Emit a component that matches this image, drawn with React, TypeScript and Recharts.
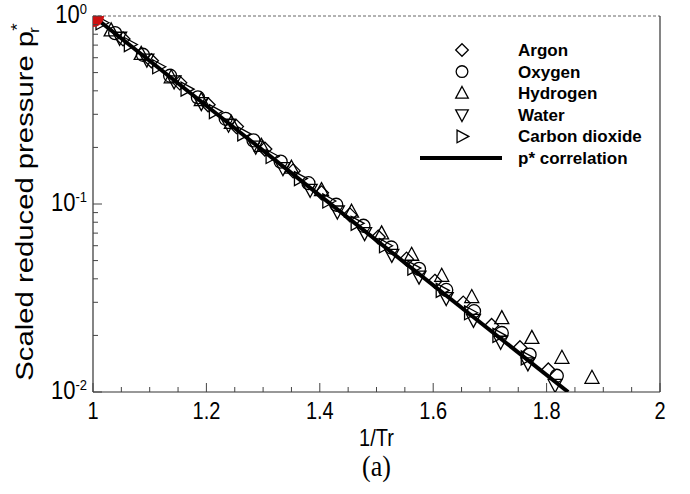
import React from "react";
import {
  ScatterChart,
  Scatter,
  XAxis,
  YAxis,
  ReferenceLine,
} from "recharts";

// ---------- data ----------
const argonX = [1.003, 1.053, 1.103, 1.153, 1.203, 1.253, 1.303, 1.353, 1.403, 1.453, 1.503, 1.553, 1.603, 1.653, 1.703, 1.753, 1.803];
const argonY = [0.984, 0.755, 0.578, 0.441, 0.337, 0.258, 0.196, 0.150, 0.1146, 0.0875, 0.0667, 0.0509, 0.0388, 0.0297, 0.0226, 0.0172, 0.0131];

const oxygenX = [1.039, 1.088, 1.136, 1.185, 1.234, 1.283, 1.331, 1.380, 1.429, 1.477, 1.526, 1.575, 1.623, 1.672, 1.721, 1.770, 1.818];
const oxygenY = [0.811, 0.622, 0.481, 0.369, 0.284, 0.218, 0.168, 0.129, 0.0991, 0.0766, 0.0587, 0.0452, 0.0349, 0.0269, 0.0206, 0.0158, 0.0122];

const hydrogenX = [1.032, 1.085, 1.138, 1.191, 1.244, 1.297, 1.350, 1.403, 1.456, 1.509, 1.562, 1.615, 1.668, 1.721, 1.774, 1.827, 1.880];
const hydrogenY = [0.839, 0.629, 0.472, 0.357, 0.270, 0.204, 0.156, 0.1186, 0.0910, 0.0698, 0.0537, 0.0415, 0.0320, 0.0247, 0.0194, 0.0152, 0.0119];

const waterX = [1.047, 1.095, 1.143, 1.191, 1.239, 1.287, 1.335, 1.383, 1.431, 1.479, 1.527, 1.575, 1.623, 1.671, 1.719, 1.767, 1.815];
const waterY = [0.766, 0.586, 0.449, 0.344, 0.264, 0.202, 0.155, 0.119, 0.0912, 0.0700, 0.0536, 0.0411, 0.0316, 0.0242, 0.0185, 0.0142, 0.0109];

const co2X = [1.015, 1.065, 1.115, 1.165, 1.215, 1.265, 1.315, 1.365, 1.415, 1.465, 1.515, 1.565, 1.615, 1.665, 1.715, 1.765];
const co2Y = [0.921, 0.705, 0.537, 0.408, 0.310, 0.236, 0.179, 0.1365, 0.1038, 0.0789, 0.0600, 0.0456, 0.0347, 0.0264, 0.0200, 0.0152];

const corrX = [1.0, 1.838];
const corrY = [1.0, 0.01];

const criticalX = [1.0];
const criticalY = [1.0];

const seriesNames = ["Argon", "Oxygen", "Hydrogen", "Water", "Carbon dioxide"];
const lineName = "p* correlation";

const xTicks = [1, 1.05, 1.1, 1.15, 1.2, 1.25, 1.3, 1.35, 1.4, 1.45, 1.5, 1.55, 1.6, 1.65, 1.7, 1.75, 1.8, 1.85, 1.9, 1.95, 2];
const yTicks = [0.01, 0.02, 0.03, 0.04, 0.05, 0.06, 0.07, 0.08, 0.09, 0.1, 0.2, 0.3, 0.4, 0.5, 0.6, 0.7, 0.8, 0.9, 1];

const xLabel = "1/Tr";
const caption = "(a)";

// ---------- helpers ----------
const toPts = (xs: number[], ys: number[]) => xs.map((x, i) => ({ x, y: ys[i] }));

const FONT = "'Liberation Sans', Arial, Helvetica, sans-serif";
const SW = 1.3;

type ShapeKind = "diamond" | "circle" | "triUp" | "triDown" | "triRight";
const kinds: ShapeKind[] = ["diamond", "circle", "triUp", "triDown", "triRight"];

function markerPath(kind: ShapeKind, cx: number, cy: number, s = 1) {
  switch (kind) {
    case "diamond":
      return <path d={`M${cx},${cy - 7 * s}L${cx + 7 * s},${cy}L${cx},${cy + 7 * s}L${cx - 7 * s},${cy}Z`} fill="none" stroke="#000" strokeWidth={SW} />;
    case "circle":
      return <circle cx={cx} cy={cy} r={6.5 * s} fill="none" stroke="#000" strokeWidth={SW} />;
    case "triUp":
      return <path d={`M${cx},${cy - 7.5 * s}L${cx + 7 * s},${cy + 5.5 * s}L${cx - 7 * s},${cy + 5.5 * s}Z`} fill="none" stroke="#000" strokeWidth={SW} />;
    case "triDown":
      return <path d={`M${cx},${cy + 7.5 * s}L${cx + 7 * s},${cy - 5.5 * s}L${cx - 7 * s},${cy - 5.5 * s}Z`} fill="none" stroke="#000" strokeWidth={SW} />;
    case "triRight":
      return <path d={`M${cx + 7.5 * s},${cy}L${cx - 5.5 * s},${cy - 7 * s}L${cx - 5.5 * s},${cy + 7 * s}Z`} fill="none" stroke="#000" strokeWidth={SW} />;
  }
}

const makeShape = (kind: ShapeKind) => (props: any) => {
  const { cx, cy } = props;
  if (cx == null || cy == null) return <g />;
  return markerPath(kind, cx, cy);
};

const XTick = (props: any) => {
  const { x, y, payload } = props;
  const v = payload.value as number;
  const major = Math.abs(v * 5 - Math.round(v * 5)) < 1e-6;
  const label = Number.isInteger(v) ? String(v) : v.toFixed(1);
  return (
    <g>
      <line x1={x} x2={x} y1={y} y2={y - (major ? 9 : 5)} stroke="#444" strokeWidth={1} />
      {major && (
        <text transform={`translate(${x},${y + 27}) scale(1,1.2)`} textAnchor="middle" fontSize={20} fontFamily={FONT} fill="#000">
          {label}
        </text>
      )}
    </g>
  );
};

const YTick = (props: any) => {
  const { x, y, payload } = props;
  const v = payload.value as number;
  const e = Math.log10(v);
  const major = Math.abs(e - Math.round(e)) < 1e-6;
  return (
    <g>
      <line x1={x} x2={x + (major ? 9 : 5)} y1={y} y2={y} stroke="#444" strokeWidth={1} />
      {major && (
        <text transform={`translate(${x - 6},${y + 7}) scale(1,1.15)`} textAnchor="end" fontFamily={FONT} fill="#000">
          <tspan fontSize={22}>10</tspan>
          <tspan fontSize={13} dy={-7.5}>{String(Math.round(e))}</tspan>
        </text>
      )}
    </g>
  );
};

const YLabel = () => (
  <text transform="translate(33,202) rotate(-90) scale(1.22,1)" textAnchor="middle" fontFamily={FONT} fontSize={24} fill="#000">
    <tspan>Scaled reduced pressure p</tspan>
    <tspan fontSize={16} dy={-10}>*</tspan>
    <tspan fontSize={14} dx={-8} dy={16}>r</tspan>
  </text>
);

const XLabel = (props: any) => {
  const vb = props.viewBox || { x: 93, y: 392, width: 567 };
  const cx = vb.x + vb.width / 2;
  return (
    <g>
      <text transform={`translate(${cx},${vb.y + 54}) scale(1,1.2)`} textAnchor="middle" fontFamily={FONT} fontSize={20} fill="#000">
        {xLabel}
      </text>
      <text transform={`translate(${cx},${vb.y + 84}) scale(1,1.1)`} textAnchor="middle" fontFamily="'Liberation Serif', 'DejaVu Serif', serif" fontSize={26} fill="#000">
        {caption}
      </text>
    </g>
  );
};

const LegendBox = () => (
  <svg width={270} height={140} style={{ position: "absolute", left: 410, top: 36, display: "block" }}>
    {seriesNames.map((n, i) => (
      <g key={n}>
        {markerPath(kinds[i], 52, 14 + i * 21.6, 0.9)}
        <text x={108} y={20 + i * 21.6} fontFamily={FONT} fontWeight="bold" fontSize={17} fill="#000">
          {n}
        </text>
      </g>
    ))}
    <line x1={10} x2={92} y1={14 + 5 * 21.6} y2={14 + 5 * 21.6} stroke="#000" strokeWidth={4} />
    <text x={108} y={20 + 5 * 21.6} fontFamily={FONT} fontWeight="bold" fontSize={17} fill="#000">
      {lineName}
    </text>
  </svg>
);

const RedDot = (props: any) => {
  const { cx, cy } = props;
  if (cx == null) return <g />;
  return <circle cx={cx} cy={cy} r={11} fill="#cc1111" stroke="none" />;
};

const NoShape = () => <g />;

export default function App() {
  const seriesData = [
    toPts(argonX, argonY),
    toPts(oxygenX, oxygenY),
    toPts(hydrogenX, hydrogenY),
    toPts(waterX, waterY),
    toPts(co2X, co2Y),
  ];
  return (
    <div style={{ position: "absolute", left: 0, top: 0, width: 690, height: 494, background: "#fff" }}>
      <ScatterChart width={690} height={494} margin={{ top: 16, right: 30, bottom: 42, left: 0 }}>
        <XAxis
          type="number"
          dataKey="x"
          domain={[1, 2]}
          ticks={xTicks}
          interval={0}
          allowDataOverflow
          height={60}
          tickSize={0}
          tickMargin={0}
          tick={<XTick />}
          axisLine={{ stroke: "#333", strokeWidth: 1.2 }}
          tickLine={false}
          label={<XLabel />}
        />
        <YAxis
          type="number"
          dataKey="y"
          scale="log"
          domain={[0.01, 1]}
          ticks={yTicks}
          interval={0}
          allowDataOverflow
          width={93}
          tickSize={0}
          tickMargin={0}
          tick={<YTick />}
          axisLine={{ stroke: "#333", strokeWidth: 1.2 }}
          tickLine={false}
          label={<YLabel />}
        />
        <ReferenceLine y={1} stroke="#666" strokeDasharray="3 2" strokeWidth={1} />
        <ReferenceLine x={2} stroke="#333" strokeWidth={1.2} />
        {seriesData.map((d, i) => (
          <Scatter key={seriesNames[i]} name={seriesNames[i]} data={d} shape={makeShape(kinds[i])} isAnimationActive={false} />
        ))}
        <Scatter
          name={lineName}
          data={toPts(corrX, corrY)}
          line={{ stroke: "#000", strokeWidth: 4 }}
          shape={NoShape}
          isAnimationActive={false}
        />
        <Scatter name="critical" data={toPts(criticalX, criticalY)} shape={RedDot} isAnimationActive={false} />
      </ScatterChart>
      <LegendBox />
    </div>
  );
}
